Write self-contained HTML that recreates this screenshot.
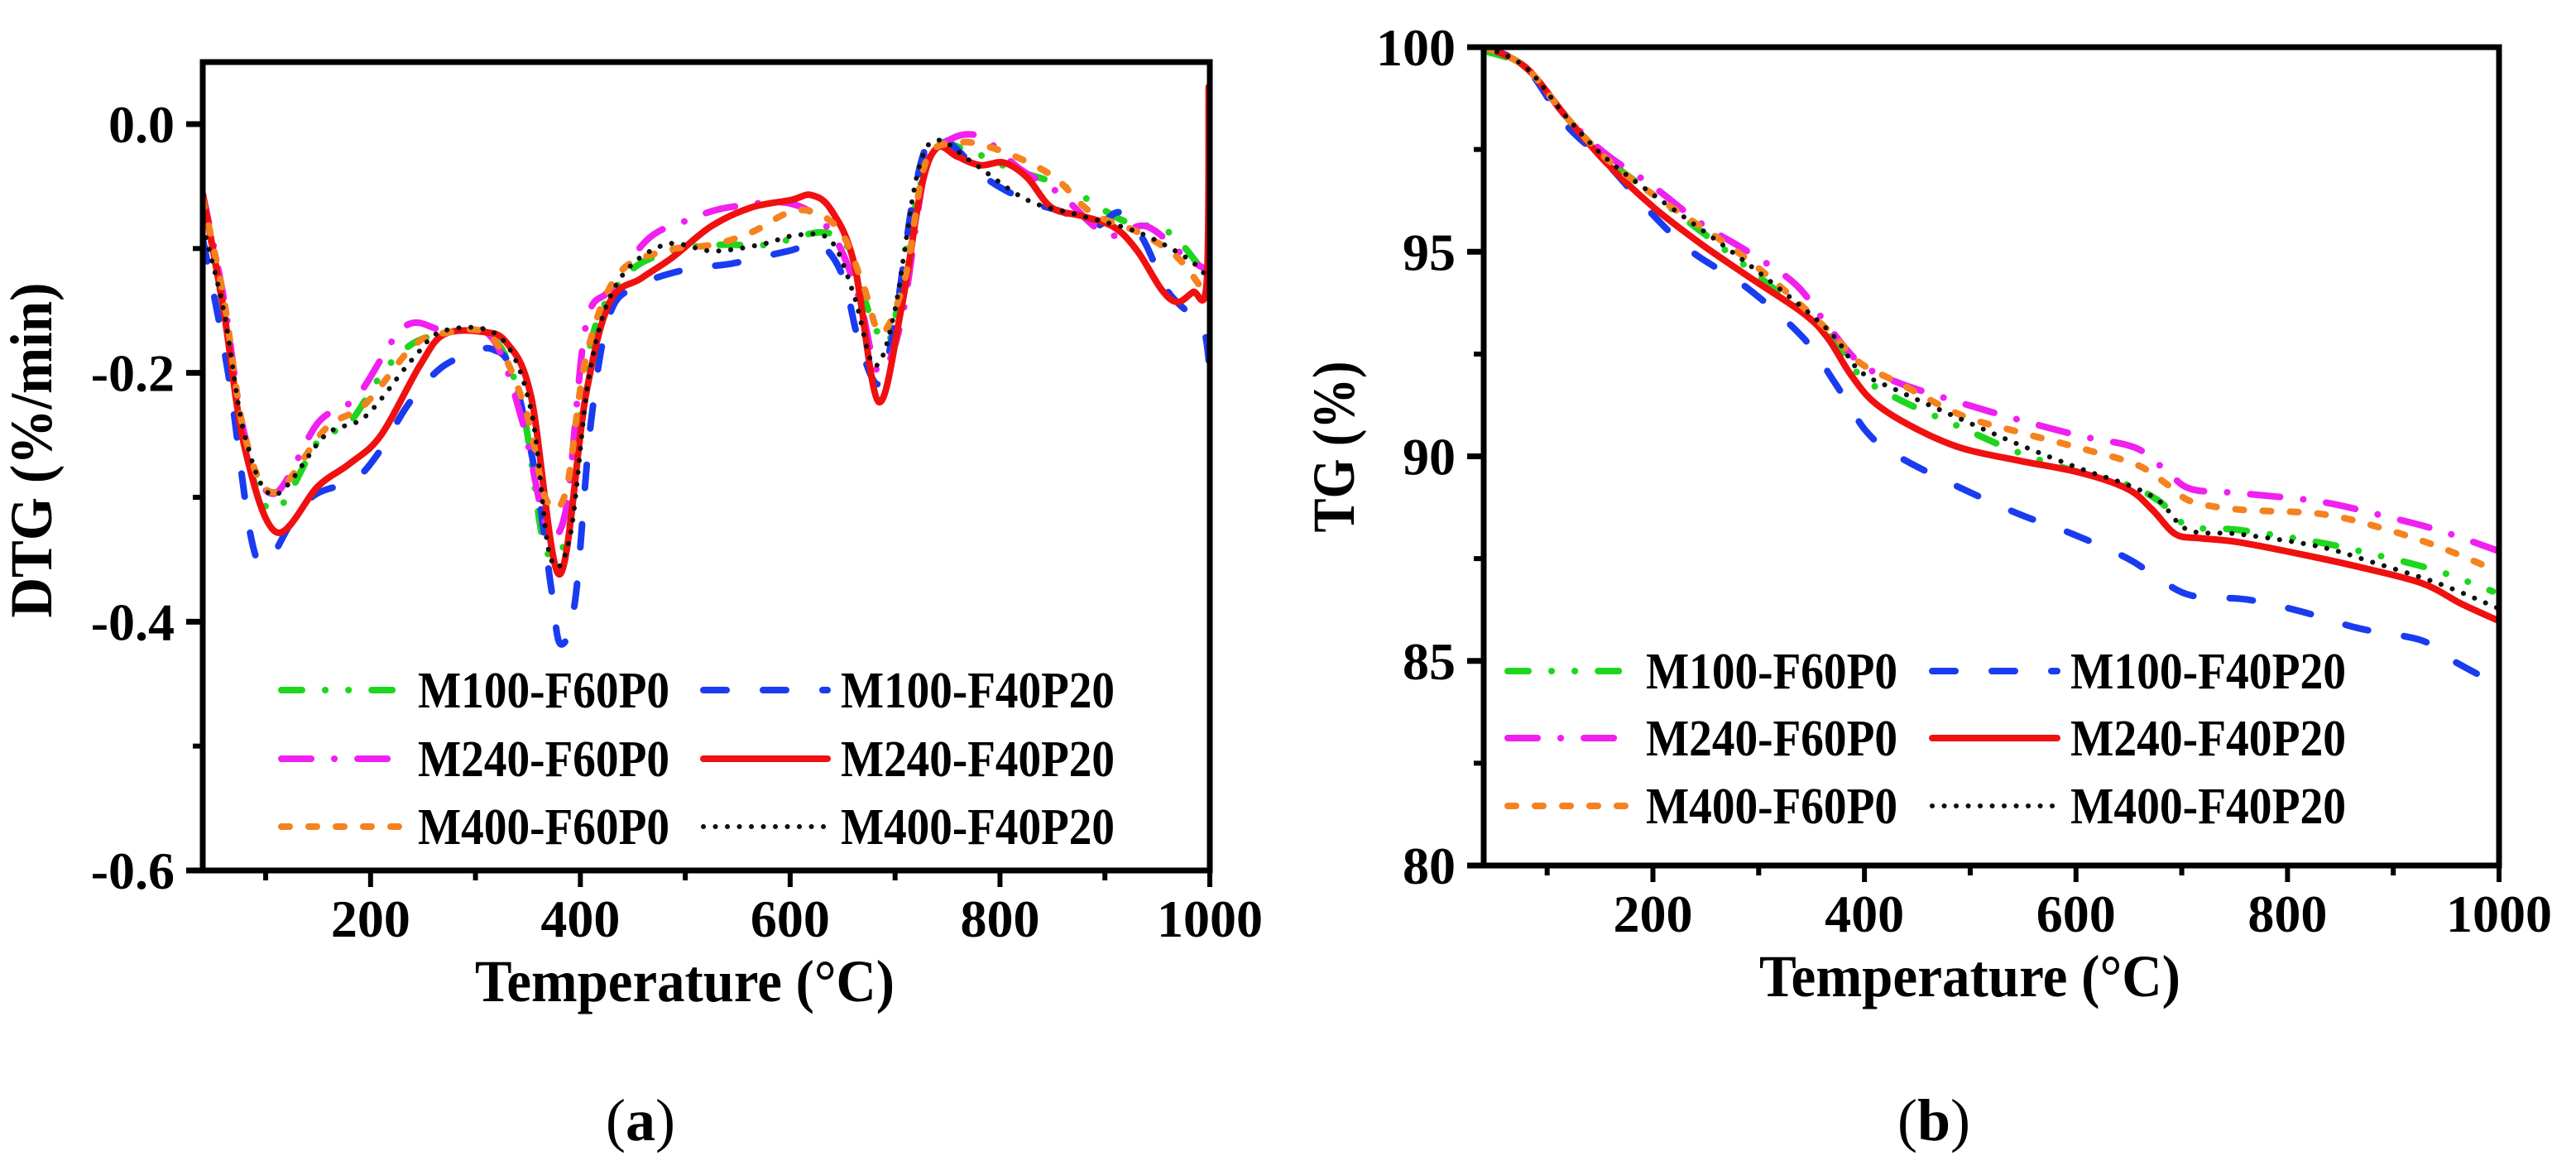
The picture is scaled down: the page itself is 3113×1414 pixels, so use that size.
<!DOCTYPE html>
<html><head><meta charset="utf-8"><style>
html,body{margin:0;padding:0;background:#fff;}
svg{display:block;}
text{font-family:"Liberation Serif",serif;font-weight:bold;fill:#000;}
</style></head><body>
<svg id="fig" width="3113" height="1414" viewBox="0 0 3113 1414" xmlns="http://www.w3.org/2000/svg">
<g id="pa"></g>
<g id="pb"></g>
<text x="774" y="1378" font-size="72" text-anchor="middle" style="font-weight:normal">(<tspan font-weight="bold">a</tspan>)</text>
<text x="2337" y="1378" font-size="72" text-anchor="middle" style="font-weight:normal">(<tspan font-weight="bold">b</tspan>)</text>
</svg>
<script>
const seriesNames = ["M100-F60P0","M100-F40P20","M240-F60P0","M240-F40P20","M400-F60P0","M400-F40P20"];
const seriesColors = ["#1ed61e","#1a3cf0","#f020f0","#f01010","#f5821f","#111111"];
const xTicks = [200,400,600,800,1000];
const dtgTicks = [0.0,-0.2,-0.4,-0.6];
const dtgTickLabels = ["0.0","-0.2","-0.4","-0.6"];
const tgTicks = [80,85,90,95,100];
const tgTickLabels = ["80","85","90","95","100"];

const dtgGreen = [[40,-0.06],[60,-0.15],[80,-0.26],[108,-0.311],[150,-0.255],[180,-0.240],[217,-0.194],[255,-0.171],[315,-0.171],[345,-0.230],[367,-0.342],[390,-0.321],[409,-0.179],[443,-0.122],[488,-0.102],[533,-0.097],[578,-0.097],[631,-0.087],[657,-0.102],[676,-0.153],[695,-0.173],[714,-0.087],[736,-0.020],[766,-0.020],[811,-0.036],[864,-0.051],[916,-0.077],[961,-0.087],[997,-0.122]];
const dtgBlue = [[40,-0.092],[64,-0.199],[86,-0.332],[101,-0.352],[124,-0.321],[147,-0.298],[184,-0.286],[207,-0.265],[237,-0.224],[267,-0.196],[297,-0.184],[316,-0.181],[335,-0.199],[357,-0.281],[372,-0.372],[381,-0.418],[395,-0.383],[410,-0.240],[428,-0.153],[455,-0.130],[500,-0.117],[545,-0.112],[598,-0.102],[628,-0.097],[650,-0.122],[665,-0.173],[684,-0.209],[699,-0.163],[718,-0.056],[735,-0.010],[756,-0.018],[786,-0.043],[824,-0.061],[861,-0.071],[891,-0.082],[914,-0.071],[936,-0.092],[959,-0.133],[981,-0.153],[995,-0.168],[1000,-0.2]];
const dtgMagenta = [[40,-0.056],[60,-0.14],[80,-0.25],[108,-0.297],[150,-0.240],[187,-0.219],[232,-0.163],[270,-0.166],[315,-0.171],[345,-0.240],[367,-0.321],[386,-0.311],[405,-0.163],[428,-0.133],[465,-0.092],[503,-0.077],[541,-0.067],[601,-0.064],[639,-0.087],[665,-0.138],[684,-0.199],[706,-0.158],[729,-0.036],[751,-0.013],[781,-0.010],[819,-0.036],[857,-0.056],[902,-0.089],[939,-0.082],[977,-0.107],[997,-0.117]];
const dtgRed = [[40,-0.056],[60,-0.15],[80,-0.26],[110,-0.328],[150,-0.291],[180,-0.273],[210,-0.25],[247,-0.194],[270,-0.169],[307,-0.167],[330,-0.176],[353,-0.219],[380,-0.362],[405,-0.219],[428,-0.143],[458,-0.124],[488,-0.107],[525,-0.082],[563,-0.067],[601,-0.061],[620,-0.057],[639,-0.069],[661,-0.112],[684,-0.223],[706,-0.148],[725,-0.051],[740,-0.019],[759,-0.026],[781,-0.033],[804,-0.031],[826,-0.043],[849,-0.067],[879,-0.074],[909,-0.083],[931,-0.102],[954,-0.133],[969,-0.143],[984,-0.135],[997,-0.128],[999,0.03]];
const dtgOrange = [[40,-0.06],[60,-0.14],[80,-0.25],[108,-0.296],[157,-0.245],[195,-0.225],[240,-0.179],[270,-0.168],[315,-0.171],[348,-0.230],[367,-0.301],[386,-0.296],[405,-0.189],[435,-0.122],[480,-0.102],[526,-0.097],[563,-0.087],[608,-0.069],[646,-0.084],[669,-0.128],[687,-0.168],[710,-0.122],[729,-0.031],[759,-0.015],[796,-0.020],[849,-0.041],[887,-0.071],[932,-0.087],[969,-0.107],[997,-0.138]];
const dtgBlack = [[40,-0.082],[60,-0.15],[80,-0.25],[108,-0.298],[157,-0.250],[195,-0.235],[240,-0.189],[270,-0.166],[323,-0.171],[353,-0.230],[371,-0.347],[390,-0.332],[409,-0.199],[435,-0.128],[480,-0.097],[526,-0.102],[571,-0.097],[608,-0.089],[639,-0.094],[661,-0.138],[680,-0.194],[699,-0.153],[721,-0.041],[740,-0.013],[774,-0.031],[826,-0.061],[879,-0.074],[932,-0.087],[977,-0.107],[997,-0.122]];

const tgGreen = [[42,99.9],[80,99.5],[118,98.3],[155,97.3],[200,96.4],[290,94.6],[365,93.0],[395,92.0],[432,91.4],[492,90.7],[545,90.1],[604,89.6],[649,89.3],[679,88.9],[706,88.3],[754,88.2],[829,87.9],[882,87.6],[942,87.2],[994,86.7]];
const tgBlue = [[42,100],[80,99.5],[118,98.1],[155,97.2],[200,95.9],[237,95.0],[290,94.1],[342,92.9],[372,91.8],[402,90.6],[432,90.0],[485,89.3],[545,88.6],[597,88.1],[649,87.5],[679,87.0],[709,86.6],[762,86.5],[814,86.2],[867,85.8],[927,85.5],[957,85.0],[1000,84.4]];
const tgMagenta = [[42,100],[80,99.5],[118,98.3],[155,97.4],[200,96.6],[245,95.7],[290,95.0],[335,94.2],[365,93.2],[395,92.3],[432,91.8],[492,91.3],[545,90.9],[604,90.5],[657,90.2],[687,89.6],[709,89.2],[754,89.1],[829,88.9],[882,88.6],[942,88.2],[998,87.7]];
const tgRed = [[42,100],[80,99.5],[118,98.3],[155,97.2],[200,96.1],[245,95.2],[290,94.4],[342,93.5],[365,92.9],[387,92.0],[410,91.3],[447,90.7],[492,90.2],[545,89.9],[604,89.6],[649,89.2],[672,88.7],[694,88.1],[717,88.0],[754,87.9],[814,87.6],[867,87.3],[927,86.9],[964,86.4],[998,86.0]];
const tgOrange = [[42,100],[80,99.5],[118,98.3],[155,97.3],[200,96.4],[290,94.8],[365,93.1],[395,92.3],[432,91.8],[492,91.0],[545,90.6],[604,90.2],[657,89.8],[687,89.3],[709,88.9],[754,88.7],[829,88.6],[882,88.3],[942,87.8],[998,87.2]];
const tgBlack = [[42,100],[80,99.5],[118,98.3],[155,97.3],[200,96.4],[290,94.7],[365,93.1],[395,92.1],[432,91.6],[492,90.9],[545,90.3],[604,89.7],[649,89.3],[679,88.9],[706,88.2],[754,88.1],[829,87.8],[882,87.4],[942,86.9],[998,86.3]];

const dashes = ["25 28 0.1 28 0.1 28","28 44","36 28 0.1 28","","10 23","0.1 14.4"];
const NS = "http://www.w3.org/2000/svg";
function mk(tag, attrs, parent){const e=document.createElementNS(NS,tag);for(const k in attrs)e.setAttribute(k,attrs[k]);parent.appendChild(e);return e;}
function smooth(pts){let d="M"+pts[0][0]+","+pts[0][1];for(let i=0;i<pts.length-1;i++){const p0=pts[Math.max(0,i-1)],p1=pts[i],p2=pts[i+1],p3=pts[Math.min(pts.length-1,i+2)];const c1x=p1[0]+(p2[0]-p0[0])/6,c1y=p1[1]+(p2[1]-p0[1])/6,c2x=p2[0]-(p3[0]-p1[0])/6,c2y=p2[1]-(p3[1]-p1[1])/6;d+=" C"+c1x.toFixed(1)+","+c1y.toFixed(1)+" "+c2x.toFixed(1)+","+c2y.toFixed(1)+" "+p2[0].toFixed(1)+","+p2[1].toFixed(1);}return d;}

function drawChart(g, cfg){
  const sx=v=>cfg.L+(v-40)/(1000-40)*(cfg.R-cfg.L);
  const sy=v=>cfg.B-(v-cfg.ymin)/(cfg.ymax-cfg.ymin)*(cfg.B-cfg.T);
  const clip=mk('clipPath',{id:cfg.id+'clip'},g);
  mk('rect',{x:cfg.L,y:cfg.T,width:cfg.R-cfg.L,height:cfg.B-cfg.T},clip);
  const lines=mk('g',{'clip-path':'url(#'+cfg.id+'clip)'},g);
  cfg.series.forEach((s,i)=>{
    const p=mk('path',{d:smooth(s.map(q=>[sx(q[0]),sy(q[1])])),fill:'none',stroke:seriesColors[i],'stroke-width':i==5?6:8,'stroke-linecap':'round','stroke-linejoin':'round','stroke-dasharray':dashes[i]},lines);
    
    
  });
  const ax=mk('rect',{x:cfg.L,y:cfg.T,width:cfg.R-cfg.L,height:cfg.B-cfg.T,fill:'none',stroke:'#000','stroke-width':7},g);
  
  
  for(let v=100;v<=1000;v+=100){
    const major=v%200==0;
    mk('line',{x1:sx(v),x2:sx(v),y1:cfg.B,y2:cfg.B+(major?20:12),stroke:'#000','stroke-width':6},g);
  }
  xTicks.forEach(v=>{
    const t=mk('text',{x:sx(v),y:cfg.B+80,'font-size':64,'text-anchor':'middle'},g);
    t.textContent=v;
    
    
  });
  cfg.yticks.forEach((v,i)=>{
    mk('line',{x1:cfg.L-20,x2:cfg.L,y1:sy(v),y2:sy(v),stroke:'#000','stroke-width':7},g);
    const t=mk('text',{x:cfg.L-34,y:sy(v)+22,'font-size':64,'text-anchor':'end'},g);
    t.textContent=cfg.ylabels[i];
    
    
  });
  cfg.yminor.forEach(v=>{mk('line',{x1:cfg.L-12,x2:cfg.L,y1:sy(v),y2:sy(v),stroke:'#000','stroke-width':6},g);});
  const xt=mk('text',{x:cfg.xtX,y:cfg.B+158,'font-size':72,textLength:cfg.xtW,lengthAdjust:'spacingAndGlyphs'},g);
  xt.textContent='Temperature (°C)';
  
  
  const yt=mk('text',{x:0,y:0,'font-size':72,'text-anchor':'middle',transform:'translate('+(cfg.ytX+24)+','+cfg.ytY+') rotate(-90)',textLength:cfg.ytW,lengthAdjust:'spacingAndGlyphs'},g);
  yt.textContent=cfg.ytitle;
  
  
  [0,1,2,3,4,5].forEach(i=>{
    const col=i%2,row=Math.floor(i/2);
    const y=cfg.legY[row];
    const lg=mk('g',{},g);
    
    
    mk('line',{x1:cfg.legLine[col][0],x2:cfg.legLine[col][1],y1:y,y2:y,stroke:seriesColors[i],'stroke-width':i==5?6:8,'stroke-linecap':'round','stroke-dasharray':dashes[i]},lg);
    const t=mk('text',{x:cfg.legText[col][0],y:y+21,'font-size':62,textLength:cfg.legText[col][1],lengthAdjust:'spacingAndGlyphs'},lg);
    t.textContent=seriesNames[i];
  });
}
drawChart(document.getElementById('pa'),{id:'a',L:245,R:1462,T:75,B:1052,ymin:-0.6,ymax:0.0499,
  series:[dtgGreen,dtgBlue,dtgMagenta,dtgRed,dtgOrange,dtgBlack],yticks:dtgTicks,ylabels:dtgTickLabels,yminor:[-0.1,-0.3,-0.5],
  xtX:574,xtW:507,ytX:38,ytY:544,ytW:405,ytitle:'DTG (%/min)',
  legY:[834,917,999],legLine:[[340,483],[850,1000]],legText:[[505,304],[1016,331]]});
drawChart(document.getElementById('pb'),{id:'b',L:1793,R:3020,T:57,B:1046,ymin:80,ymax:100,
  series:[tgGreen,tgBlue,tgMagenta,tgRed,tgOrange,tgBlack],yticks:tgTicks,ylabels:tgTickLabels,yminor:[82.5,87.5,92.5,97.5],
  xtX:2126,xtW:509,ytX:1612,ytY:540,ytW:207,ytitle:'TG (%)',
  legY:[811,892,974],legLine:[[1822,1967],[2335,2486]],legText:[[1989,304],[2502,333]]});
</script>
</body></html>
